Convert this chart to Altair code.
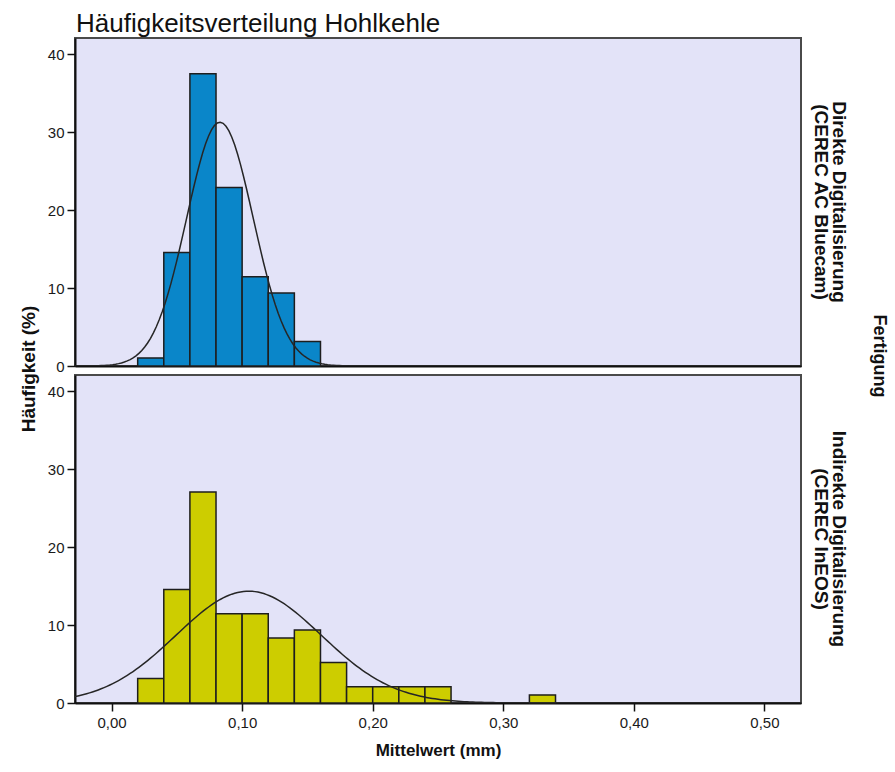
import altair as alt
import pandas as pd

# Histogram bins (left edge in mm, width 0.02 mm) and relative frequency in %
bin_width = 0.02
direkt_start = [0.02, 0.04, 0.06, 0.08, 0.10, 0.12, 0.14]
direkt_pct = [1.04, 14.58, 37.50, 22.92, 11.46, 9.38, 3.13]

indirekt_start = [0.02, 0.04, 0.06, 0.08, 0.10, 0.12, 0.14, 0.16,
                  0.18, 0.20, 0.22, 0.24, 0.32]
indirekt_pct = [3.13, 14.58, 27.08, 11.46, 11.46, 8.33, 9.38, 5.21,
                2.08, 2.08, 2.08, 2.08, 1.04]

# Fitted normal distribution per group: (mean, standard deviation) in mm
direkt_fit = (0.083, 0.0255)
indirekt_fit = (0.105, 0.0556)

group_labels = ["Direkte Digitalisierung\n(CEREC AC Bluecam)",
                "Indirekte Digitalisierung\n(CEREC InEOS)"]
bar_colors = ["#0A86C9", "#CDCD00"]
x_ticks = [0.0, 0.1, 0.2, 0.3, 0.4, 0.5]
y_ticks = [0, 10, 20, 30, 40]

W, H = 726, 328
X_DOMAIN = [-0.028, 0.528]
Y_DOMAIN = [0, 42.1]
SANS = "Liberation Sans, Arial, sans-serif"


def text_layer(text, x, y, **kw):
    return alt.Chart(pd.DataFrame({"t": [text]})).mark_text(**kw).encode(
        text="t:N", x=alt.value(x), y=alt.value(y))


def panel(starts, pct, fit, color, label, bottom):
    df = pd.DataFrame({"start": starts, "pct": pct})
    df["end"] = df["start"] + bin_width

    xscale = alt.Scale(domain=X_DOMAIN, nice=False, zero=False)
    yscale = alt.Scale(domain=Y_DOMAIN, nice=False)
    if bottom:
        xaxis = alt.Axis(values=x_ticks, title="Mittelwert (mm)",
                         labelExpr="replace(format(datum.value, '.2f'), '.', ',')",
                         tickSize=8, labelPadding=4, labelFont=SANS,
                         labelFontSize=15, titleFont=SANS, titleFontSize=17,
                         titleFontWeight="bold", titlePadding=12)
    else:
        xaxis = alt.Axis(labels=False, ticks=False, title=None)
    yaxis = alt.Axis(values=y_ticks, title=None, tickSize=8, labelPadding=3,
                     labelFont=SANS, labelFontSize=15)

    bars = alt.Chart(df).mark_bar(color=color, stroke="#1e1e1e",
                                  strokeWidth=1.5).encode(
        x=alt.X("start:Q", scale=xscale, axis=xaxis),
        x2="end:Q",
        y=alt.Y("pct:Q", scale=yscale, axis=yaxis),
        y2=alt.datum(0),
    )

    mean, sd = fit
    span = X_DOMAIN[1] - X_DOMAIN[0]
    curve = alt.Chart(alt.sequence(0, 1.0001, 0.004, as_="t")).transform_calculate(
        x=f"{X_DOMAIN[0]} + datum.t * {span}",
        y=(f"100 * {bin_width} / ({sd} * sqrt(2 * PI)) * "
           f"exp(-0.5 * pow((datum.x - {mean}) / {sd}, 2))"),
    ).mark_line(color="#262626", strokeWidth=1.5, clip=True).encode(
        x=alt.X("x:Q", scale=xscale, axis=xaxis),
        y=alt.Y("y:Q", scale=yscale, axis=yaxis),
    )

    # invisible anchor keeping the plot origin at a fixed page offset
    anchor = alt.Chart(pd.DataFrame({"a": [0]})).mark_rect(
        opacity=0, fill="white").encode(
        x=alt.value(-74), x2=alt.value(-73), y=alt.value(-37), y2=alt.value(-36))

    row_label = text_layer(label, W + 38, H / 2, angle=90, align="center",
                           baseline="middle", lineBreak="\n", lineHeight=18,
                           font=SANS, fontSize=19, fontWeight="bold",
                           color="#111111")

    layers = [anchor, bars, curve, row_label]
    if not bottom:
        layers += [
            text_layer("Häufigkeitsverteilung Hohlkehle", 1, -6, align="left",
                       baseline="alphabetic", font=SANS, fontSize=26,
                       color="#111111"),
            text_layer("Häufigkeit (%)", -46, 331, angle=270, align="center",
                       baseline="middle", font=SANS, fontSize=19,
                       fontWeight="bold", color="#111111"),
            text_layer("Fertigung", 804, 318, angle=90, align="center",
                       baseline="middle", font=SANS, fontSize=18,
                       fontWeight="bold", color="#111111"),
        ]
    return alt.layer(*layers).properties(width=W, height=H)


top = panel(direkt_start, direkt_pct, direkt_fit, bar_colors[0],
            group_labels[0], bottom=False)
bottom = panel(indirekt_start, indirekt_pct, indirekt_fit, bar_colors[1],
               group_labels[1], bottom=True)

chart = alt.vconcat(top, bottom, spacing=9, bounds="flush").properties(
    padding=0, background="white"
).configure_view(
    fill="#E3E3F8", stroke="#4a4a4a", strokeWidth=2
).configure_axis(
    grid=False, domainColor="#111111", domainWidth=2, tickColor="#111111",
    tickWidth=1.5, labelColor="#1a1a1a", titleColor="#111111"
)

chart.save("out.html", embed_options={"renderer": "svg", "actions": False})
